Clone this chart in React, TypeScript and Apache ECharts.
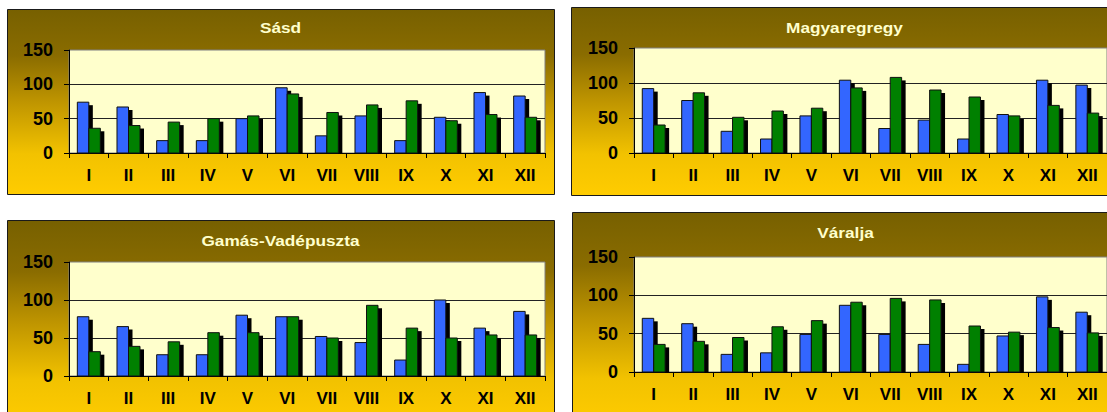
import React, { useEffect, useRef } from "react";
import * as echarts from "echarts";

const months = ["I", "II", "III", "IV", "V", "VI", "VII", "VIII", "IX", "X", "XI", "XII"];
const yTicks = [0, 50, 100, 150];

const titles = ["Sásd", "Magyaregregy", "Gamás-Vadépuszta", "Váralja"];

const sasdBlue = [74, 67, 18, 18, 50, 95, 25, 54, 18, 52, 88, 83];
const sasdGreen = [36, 40, 45, 50, 54, 86, 59, 70, 76, 47, 56, 52];

const magyBlue = [92, 75, 31, 20, 53, 104, 35, 47, 20, 55, 104, 97];
const magyGreen = [40, 86, 51, 60, 64, 93, 108, 90, 80, 53, 68, 57];

const gamasBlue = [78, 65, 28, 28, 80, 78, 52, 44, 21, 100, 63, 85];
const gamasGreen = [32, 39, 45, 57, 57, 78, 50, 93, 63, 50, 54, 54];

const varaljaBlue = [70, 63, 23, 25, 49, 87, 49, 36, 10, 47, 98, 78];
const varaljaGreen = [36, 40, 45, 59, 67, 91, 96, 94, 60, 52, 58, 51];

const blueSets = [sasdBlue, magyBlue, gamasBlue, varaljaBlue];
const greenSets = [sasdGreen, magyGreen, gamasGreen, varaljaGreen];

// layout (page pixels)
const boxes = [
  { x: 7, y: 9, w: 547, h: 185, titleY: 27 },
  { x: 571, y: 7, w: 547, h: 188, titleY: 27 },
  { x: 7, y: 220, w: 547, h: 205, titleY: 240 },
  { x: 572, y: 212, w: 547, h: 213, titleY: 232 },
];
const grids = [
  { left: 69, top: 50, width: 476, height: 103 },
  { left: 634, top: 48, width: 476, height: 105 },
  { left: 69, top: 262, width: 476, height: 114 },
  { left: 634, top: 257, width: 476, height: 115 },
];

const FONT = "'Liberation Sans', Arial, sans-serif";

function makeRender(side: number, color: string) {
  return (params: any, api: any) => {
    const cat = api.value(0);
    const val = api.value(1);
    const base = api.coord([cat, 0]);
    const top = api.coord([cat, val]);
    const band = api.size([1, 0])[0];
    const bw = band * 0.29;
    const x = side < 0 ? base[0] - bw : base[0];
    const h = base[1] - top[1];
    const so = 3;
    return {
      type: "group",
      children: [
        {
          type: "rect",
          shape: { x: x + 4, y: top[1] + so, width: bw, height: Math.max(0, h - so) },
          style: { fill: "#000000" },
        },
        {
          type: "rect",
          shape: { x: x, y: top[1], width: bw, height: h },
          style: { fill: color, stroke: "#111111", lineWidth: 1 },
        },
      ],
    };
  };
}

export default function App() {
  const ref = useRef<HTMLDivElement>(null);
  useEffect(() => {
    if (!ref.current) return;
    const chart = echarts.init(ref.current, undefined, { renderer: "svg" });

    const graphic: any[] = [];
    boxes.forEach((b, i) => {
      graphic.push({
        type: "rect",
        z: -10,
        shape: { x: b.x + 0.5, y: b.y + 0.5, width: b.w, height: b.h },
        style: {
          fill: new echarts.graphic.LinearGradient(0, 0, 0, 1, [
            { offset: 0, color: "#776000" },
            { offset: 0.25, color: "#8a6c00" },
            { offset: 0.5, color: "#bf9500" },
            { offset: 0.78, color: "#f2c200" },
            { offset: 1, color: "#ffcc00" },
          ]),
          stroke: "#1a1a1a",
          lineWidth: 1,
        },
      });
      graphic.push({
        type: "text",
        z: 10,
        x: b.x + b.w / 2,
        y: b.titleY,
        scaleX: 1.15,
        style: {
          text: titles[i],
          fill: "#ffffcc",
          font: `bold 15px ${FONT}`,
          textAlign: "center",
          textVerticalAlign: "middle",
        },
      });
    });

    const option: any = {
      animation: false,
      textStyle: { fontFamily: FONT },
      graphic: graphic,
      grid: grids.map((g) => ({
        ...g,
        show: true,
        backgroundColor: "#ffffcc",
        borderColor: "#808080",
        borderWidth: 1,
        containLabel: false,
      })),
      xAxis: grids.map((_, i) => ({
        type: "category",
        gridIndex: i,
        data: months,
        axisLine: { lineStyle: { color: "#000", width: 1 } },
        axisTick: { show: true, length: 5, lineStyle: { color: "#000" } },
        axisLabel: {
          color: "#000",
          fontWeight: "bold",
          fontSize: 17,
          fontFamily: FONT,
          margin: 14,
        },
        splitLine: { show: false },
      })),
      yAxis: grids.map((_, i) => ({
        type: "value",
        gridIndex: i,
        min: yTicks[0],
        max: yTicks[yTicks.length - 1],
        interval: yTicks[1] - yTicks[0],
        axisLine: { show: true, lineStyle: { color: "#000", width: 1 } },
        axisTick: { show: true, length: 5, lineStyle: { color: "#000" } },
        axisLabel: {
          color: "#000",
          fontWeight: "bold",
          fontSize: 18,
          fontFamily: FONT,
          margin: 16,
        },
        splitLine: {
          show: true,
          showMaxLine: false,
          lineStyle: { color: "#222", width: 1 },
        },
      })),
      series: [
        ...blueSets.map((d, i) => ({
          type: "custom",
          name: "blue" + i,
          xAxisIndex: i,
          yAxisIndex: i,
          encode: { x: 0, y: 1 },
          data: d.map((v, k) => [k, v]),
          renderItem: makeRender(-1, "#3366ff"),
          z: 2,
        })),
        ...greenSets.map((d, i) => ({
          type: "custom",
          name: "green" + i,
          xAxisIndex: i,
          yAxisIndex: i,
          encode: { x: 0, y: 1 },
          data: d.map((v, k) => [k, v]),
          renderItem: makeRender(1, "#008000"),
          z: 3,
        })),
      ],
    };
    chart.setOption(option);
    return () => chart.dispose();
  }, []);
  return (
    <div
      ref={ref}
      style={{ position: "absolute", left: 0, top: 0, width: 1107, height: 412 }}
    />
  );
}
